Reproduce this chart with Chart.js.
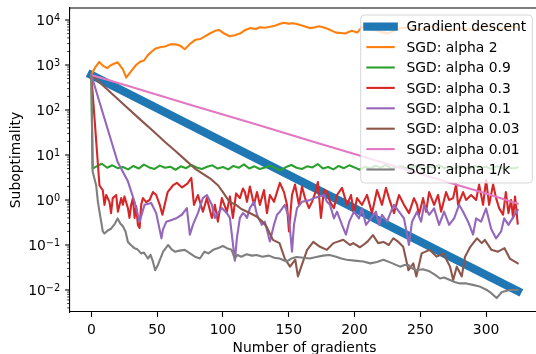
<!DOCTYPE html>
<html>
<head>
<meta charset="utf-8">
<title>Suboptimality vs gradients</title>
<script src="https://cdn.jsdelivr.net/npm/chart.js@4.4.1/dist/chart.umd.min.js"></script>
<style>
  html, body { margin: 0; padding: 0; background: #fff; overflow: hidden; }
  #wrap { width: 545px; height: 354px; }
</style>
</head>
<body>
<div id="wrap"><canvas id="chart" width="545" height="354"></canvas></div>
<script>
// [gradients, suboptimality] pairs for each run
const gradientDescent = [[0, 600], [324, 0.0095]];

const sgdAlpha2 = [[0,600],[3,890],[6,1175],[9,955],[12,850],[15,1000],[20,1150],[24,800],[26.5,525],[30,710],
  [34,1000],[37,1175],[40,1260],[43,1660],[46,2000],[49,2340],[53,2510],[56,2570],[60,2880],[64,2880],
  [68,2630],[71,2240],[75,2950],[79,3630],[83,3800],[86,4270],[90,5010],[94,5750],[97,6030],[101,5010],
  [105,4370],[109,4570],[113,5010],[117,6030],[121,6610],[125,6310],[128,6920],[132,6760],[136,7080],[140,7590],
  [143,8130],[146,8710],[150,8320],[153,8510],[156,8130],[160,7590],[163,7080],[166,6610],[170,6920],[173,7240],
  [176,6920],[180,6310],[183,5750],[186,5250],[190,5130],[193,5010],[196,5500],[198,5750],[202,5250],[206,7080],
  [210,6310],[215,6030],[220,5500],[225,5010],[230,5750],[235,6610],[240,6920],[245,6310],[250,6030],[255,6610],
  [260,7240],[265,6310],[270,5750],[275,6030],[280,6610],[285,6310],[290,6030],[295,6610],[300,7240],[305,6920],
  [310,6310],[315,6610],[320,7080],[324,6760]];

const sgdAlpha09 = [[0,600],[1,5.0],[4,5.6],[8,6.4],[12,5.2],[16,5.9],[20,5.1],[24,5.4],[28,4.8],[32,5.7],
  [36,5.0],[40,6.1],[44,5.3],[48,4.9],[52,5.8],[56,5.2],[60,5.5],[64,4.7],[68,5.6],[72,5.1],
  [76,6.0],[80,5.3],[84,4.9],[88,5.5],[92,5.9],[96,5.0],[100,5.4],[104,4.8],[108,5.7],[112,5.2],
  [116,6.2],[120,5.0],[124,5.6],[128,4.9],[132,5.3],[136,5.8],[140,5.1],[144,4.6],[148,5.4],[152,6.0],
  [156,5.2],[160,4.9],[164,5.6],[168,5.3],[172,6.3],[176,5.0],[180,5.4],[184,4.8],[188,5.7],[192,5.1],
  [196,5.9],[200,5.3],[204,4.7],[208,5.5],[212,5.0],[216,5.8],[220,5.2],[224,6.1],[228,4.9],[232,5.4],
  [236,5.6],[240,5.0],[244,5.3],[248,5.9],[252,4.8],[256,5.5],[260,5.2],[264,6.0],[268,5.1],[272,5.4],
  [276,4.9],[280,5.7],[284,5.3],[288,5.0],[292,5.8],[296,5.2],[300,5.5],[304,4.9],[308,5.6],[312,5.1],
  [316,5.4],[320,5.0],[324,5.3]];

const sgdAlpha03 = [[0,600],[6.2,2.1],[8.7,1.66],[10,0.78],[11.3,1.29],[13.8,0.91],[15,0.51],[16.3,1.1],[18.9,1.29],[20.2,0.55],
  [22.7,1.1],[24,0.78],[25.2,1.2],[27.8,0.66],[29,0.4],[30.3,0.78],[31.6,1.1],[32.9,0.4],[34.1,0.72],[35.4,0.28],
  [36.7,0.24],[37.9,0.78],[39.2,1.1],[41.7,0.9],[44.3,1.0],[46.8,1.5],[49.3,1.29],[52,0.78],[54,0.47],[58,1.5],
  [62,2.1],[65,2.4],[69,1.9],[73,2.3],[76,3.1],[78,0.78],[81,1.29],[84.8,0.55],[87.8,1.1],[91.6,0.4],
  [93.9,0.78],[96.2,0.33],[99.2,1.1],[103,0.55],[105.3,1.2],[107.6,0.4],[110,1.4],[112.9,1.1],[115.2,1.8],[116.7,1.5],
  [118.3,0.91],[120.5,2.0],[123.6,0.78],[125.9,1.5],[128.1,0.78],[131.2,1.66],[133.5,0.51],[135.7,1.29],[138.8,0.91],[141.1,1.5],
  [143.3,2.4],[146.4,1.5],[148.7,0.78],[150.2,0.2],[152.5,1.29],[154.8,2.2],[157.8,0.78],[160.1,2.0],[162.4,1.1],[165.4,0.66],
  [167.7,0.91],[170,1.4],[172.2,2.5],[174.5,0.4],[176.8,1.7],[179.1,1.5],[181.4,0.91],[184.4,0.66],[186.7,1.29],[190.5,1.86],
  [194.3,0.78],[197.3,1.29],[199.6,0.51],[201.9,1.1],[205.7,0.78],[209.5,1.3],[213.3,0.51],[217.1,1.66],[220.9,0.78],[223.9,1.86],
  [226.2,1.1],[230,0.51],[233.8,1.29],[237.6,0.78],[241.4,0.51],[245.2,1.1],[247.5,0.78],[249,0.47],[252.1,1.1],[254.4,0.55],
  [256.7,1.5],[260.5,0.78],[263.5,1.3],[265.8,0.55],[269.6,1.5],[271.9,1.0],[274.9,1.1],[277.2,2.2],[278.7,0.78],[282.5,1.5],
  [284.8,1.0],[288.6,1.29],[292.4,1.0],[294.7,2.2],[297.7,0.78],[300,2.8],[302.3,0.78],[305.3,2.2],[307.6,1.1],[309.9,0.66],
  [312.9,0.47],[315,1.5],[317,0.51],[319,1.0],[320.5,0.4],[322,1.2],[324,0.3]];

const sgdAlpha01 = [[0,600],[20,7],[27.8,2.6],[32.9,0.9],[36.7,0.33],[40.4,0.78],[45.5,0.86],[49.3,0.51],[53.3,0.14],[54.4,0.22],
  [57,0.33],[62,0.37],[65,0.4],[68.8,0.47],[72.6,0.66],[74.9,0.17],[77.2,0.28],[81,0.51],[84.8,1.1],[87.8,1.29],
  [91.6,0.78],[93.9,0.4],[96.2,0.51],[99.2,0.66],[103,0.51],[105.3,0.4],[109.1,0.045],[110.6,0.14],[112.9,0.4],[115.2,0.51],
  [116.7,0.47],[118.3,0.4],[120.5,0.66],[123.6,0.91],[125.9,0.47],[129.6,0.28],[131.9,0.33],[135.7,0.12],[138.8,0.28],[141.1,0.47],
  [143.3,0.55],[147,0.78],[150.2,0.4],[152.5,0.071],[154,0.28],[156.3,0.66],[160.1,0.91],[165.4,0.98],[169.2,1.1],[173,1.2],
  [176.8,1.29],[179.1,0.91],[181.4,0.78],[184.4,0.39],[186.7,0.55],[190.5,0.28],[193.5,0.17],[196,0.33],[199.6,0.55],[203.4,0.39],
  [205.7,0.65],[208.7,0.28],[212.5,0.39],[216.3,0.55],[218.6,0.28],[220.9,0.47],[224.7,0.33],[227.7,0.55],[230,0.78],[233.8,0.55],
  [237.6,0.39],[241.4,0.1],[243.7,0.33],[247.5,0.55],[250.6,0.33],[252.9,0.78],[256.7,0.47],[260.5,0.65],[264.3,0.28],[268.1,0.55],
  [271.9,0.28],[275.7,0.39],[279.5,0.78],[282.5,0.55],[286.3,0.33],[290.1,0.17],[292.4,0.39],[296.2,0.33],[300,0.65],[303.8,0.23],
  [307.6,0.14],[311.4,0.2],[313.7,0.39],[317,0.28],[320,0.39],[324,0.6]];

const sgdAlpha003 = [[0,600],[12,290],[24,138],[36,66],[48,32],[56,19.5],[63.5,12.6],[71,8],[78.7,5.0],[86,3.6],
  [91,2.9],[96.4,2.1],[100,1.5],[105,0.91],[110,0.78],[114,0.63],[120,0.52],[125.6,0.43],[130,0.33],[133,0.26],
  [138,0.13],[143,0.11],[147,0.05],[151,0.033],[155,0.047],[157,0.02],[160,0.036],[164,0.078],[168.7,0.117],[173.8,0.091],
  [179,0.078],[184,0.11],[191.5,0.13],[196.6,0.1],[199,0.11],[204,0.089],[206.7,0.1],[210,0.12],[214,0.166],[218,0.11],
  [222,0.117],[226,0.1],[229.5,0.141],[233,0.12],[237,0.091],[241,0.0275],[244.7,0.039],[247,0.02],[251,0.065],[257,0.078],
  [262.5,0.055],[267.5,0.065],[272.6,0.033],[275,0.0166],[277.7,0.033],[281.5,0.02],[284,0.055],[288,0.091],[293,0.141],[296.7,0.11],
  [299,0.13],[304,0.078],[309,0.071],[314,0.085],[318,0.05],[324,0.039]];

const sgdAlpha001 = [[0,600],[25,362],[50,218],[75,131],[100,79],[125,48],[150,29],[175,17.4],[200,10.5],[225,6.3],
  [250,3.8],[275,2.3],[300,1.4],[324,0.83]];

const sgdAlpha1k = [[0,600],[1,4.3],[3.7,2.1],[5,0.91],[6.2,0.55],[7.5,0.33],[8.7,0.2],[10,0.18],[12.5,0.21],[15,0.23],
  [18,0.3],[20,0.39],[22,0.3],[24,0.26],[26,0.2],[27.8,0.117],[30,0.1],[32.8,0.085],[35,0.08],[37.9,0.065],
  [40,0.068],[43,0.05],[45,0.06],[46.8,0.043],[48.5,0.0275],[50.6,0.036],[52.5,0.05],[54.6,0.071],[58.4,0.1],[61,0.08],
  [63.5,0.071],[67,0.075],[71,0.078],[75,0.065],[78.7,0.055],[82.5,0.05],[86,0.071],[89,0.065],[92.6,0.078],[96,0.085],
  [100,0.095],[103,0.085],[106.6,0.078],[109,0.05],[111,0.06],[114,0.055],[118,0.062],[122,0.058],[125.6,0.06],[130,0.055],
  [135,0.058],[139,0.052],[143,0.05],[148.4,0.043],[152,0.05],[156,0.054],[161,0.052],[166,0.05],[171,0.054],[176,0.058],
  [181,0.06],[186,0.055],[190,0.05],[194,0.047],[200,0.045],[206.7,0.043],[212,0.039],[217,0.042],[222,0.047],[228,0.04],
  [234.6,0.033],[238,0.036],[241,0.036],[244,0.03],[247,0.0275],[252,0.029],[257,0.026],[261,0.022],[265,0.018],[268,0.019],
  [272.6,0.0166],[276,0.015],[280,0.014],[285,0.014],[290,0.013],[295,0.012],[300.5,0.01],[304,0.0085],[308,0.0066],[312,0.009],
  [318,0.01],[324,0.01]];

const seriesLabels = ['Gradient descent', 'SGD: alpha 2', 'SGD: alpha 0.9', 'SGD: alpha 0.3',
  'SGD: alpha 0.1', 'SGD: alpha 0.03', 'SGD: alpha 0.01', 'SGD: alpha 1/k'];
const seriesData = [gradientDescent, sgdAlpha2, sgdAlpha09, sgdAlpha03, sgdAlpha01, sgdAlpha003, sgdAlpha001, sgdAlpha1k];
const seriesColors = ['#1f77b4', '#ff7f0e', '#2ca02c', '#d62728', '#9467bd', '#8c564b', '#e377c2', '#7f7f7f'];
const seriesWidths = [8.3, 2.1, 2.1, 2.1, 2.1, 2.1, 2.1, 2.1];

const xTicks = [0, 50, 100, 150, 200, 250, 300];
const yDecades = [-3, -2, -1, 0, 1, 2, 3, 4];
const yMinorSteps = [1, 2, 3, 4, 5, 6, 7, 8, 9];

const xMin = -16.2, xMax = 340.2;
const yMin = 0.00324, yMax = 18500;

const FONT = "'DejaVu Sans', sans-serif";
const FS = 13.9;

Chart.defaults.font.family = FONT;
Chart.defaults.font.size = FS;
Chart.defaults.color = '#000';

// dataset 0 is painted last, so flip the list to keep gradient descent underneath
const datasets = seriesLabels.map((label, i) => ({
  label: label,
  data: seriesData[i].map(([x, y]) => ({ x, y })),
  borderColor: seriesColors[i],
  backgroundColor: seriesColors[i],
  borderWidth: seriesWidths[i],
  borderCapStyle: 'square',
  borderJoinStyle: 'round',
  pointRadius: 0,
  tension: 0,
  fill: false
})).reverse();

function drawPow10(ctx, exp, xRight, yMid) {
  const sup = exp < 0 ? '\u2212' + (-exp) : String(exp);
  const supSize = FS * 0.7;
  ctx.font = FS + 'px ' + FONT;
  const wBase = ctx.measureText('10').width;
  ctx.font = supSize + 'px ' + FONT;
  const wSup = ctx.measureText(sup).width;
  const x0 = xRight - wBase - wSup;
  ctx.textAlign = 'left';
  ctx.textBaseline = 'alphabetic';
  ctx.font = FS + 'px ' + FONT;
  ctx.fillText('10', x0, yMid + 5);
  ctx.font = supSize + 'px ' + FONT;
  ctx.fillText(sup, x0 + wBase, yMid + 0.7);
}

function roundRect(ctx, x, y, w, h, r) {
  ctx.beginPath();
  ctx.moveTo(x + r, y);
  ctx.lineTo(x + w - r, y);
  ctx.arcTo(x + w, y, x + w, y + r, r);
  ctx.lineTo(x + w, y + h - r);
  ctx.arcTo(x + w, y + h, x + w - r, y + h, r);
  ctx.lineTo(x + r, y + h);
  ctx.arcTo(x, y + h, x, y + h - r, r);
  ctx.lineTo(x, y + r);
  ctx.arcTo(x, y, x + r, y, r);
  ctx.closePath();
}

// top spine, log ticks with 10^n labels, and the boxed legend in the corner
const axisDecor = {
  id: 'axisDecor',
  afterDraw(chart) {
    const { ctx, chartArea: a, scales: { y } } = chart;
    ctx.save();
    ctx.strokeStyle = '#000';
    ctx.fillStyle = '#000';
    ctx.lineWidth = 1.1;
    ctx.beginPath();
    ctx.moveTo(a.left, a.top);
    ctx.lineTo(a.right, a.top);
    ctx.stroke();

    y.ticks.forEach(t => {
      const py = y.getPixelForValue(t.value);
      const len = t.major ? 4.9 : 2.8;
      ctx.lineWidth = t.major ? 1.1 : 0.8;
      ctx.beginPath();
      ctx.moveTo(a.left - len, py);
      ctx.lineTo(a.left, py);
      ctx.stroke();
      if (t.major) drawPow10(ctx, Math.round(Math.log10(t.value)), a.left - 9.8, py);
    });

    // legend
    const bx = a.right - 178.3, by = a.top + 7, bw = 171.7, bh = 168;
    roundRect(ctx, bx, by, bw, bh, 4);
    ctx.fillStyle = 'rgba(255,255,255,0.8)';
    ctx.fill();
    ctx.lineWidth = 1;
    ctx.strokeStyle = 'rgba(204,204,204,0.8)';
    ctx.stroke();

    const hx0 = bx + 6.7, hx1 = bx + 33;
    seriesLabels.forEach((label, i) => {
      const ry = by + 11.7 + i * 20.4;
      ctx.strokeStyle = seriesColors[i];
      ctx.lineWidth = seriesWidths[i];
      ctx.lineCap = 'square';
      ctx.beginPath();
      ctx.moveTo(hx0, ry);
      ctx.lineTo(hx1, ry);
      ctx.stroke();
      ctx.fillStyle = '#000';
      ctx.font = FS + 'px ' + FONT;
      ctx.textAlign = 'left';
      ctx.textBaseline = 'alphabetic';
      ctx.fillText(label, bx + 45.7, ry + 4.7);
    });
    ctx.restore();
  }
};

new Chart(document.getElementById('chart'), {
  type: 'line',
  data: { datasets: datasets },
  options: {
    responsive: false,
    animation: false,
    devicePixelRatio: 1,
    layout: { padding: { left: 0, right: 6, top: 8, bottom: 0 } },
    plugins: {
      legend: { display: false },
      tooltip: { enabled: false }
    },
    scales: {
      x: {
        type: 'linear',
        min: xMin,
        max: xMax,
        afterBuildTicks: s => { s.ticks = xTicks.map(v => ({ value: v })); },
        afterFit: s => { s.height = 42; },
        grid: { drawOnChartArea: false, tickLength: 4.9, tickColor: '#000', tickWidth: 1.1 },
        border: { display: true, color: '#000', width: 1.1 },
        ticks: { padding: 5, maxRotation: 0, autoSkip: false, color: '#000' },
        title: { display: true, text: 'Number of gradients', color: '#000', padding: { top: 4, bottom: -3 } }
      },
      y: {
        type: 'logarithmic',
        min: yMin,
        max: yMax,
        afterBuildTicks: s => {
          const ticks = [];
          yDecades.forEach(e => {
            yMinorSteps.forEach(m => {
              const v = m * Math.pow(10, e);
              if (v >= yMin && v <= yMax) ticks.push({ value: v, major: m === 1 });
            });
          });
          s.ticks = ticks;
        },
        afterFit: s => { s.width = 70; },
        grid: { display: false },
        border: { display: true, color: '#000', width: 1.1 },
        ticks: { display: false },
        title: { display: true, text: 'Suboptimality', color: '#000', padding: { top: 8, bottom: 4 } }
      }
    }
  },
  plugins: [axisDecor]
});
</script>
</body>
</html>
